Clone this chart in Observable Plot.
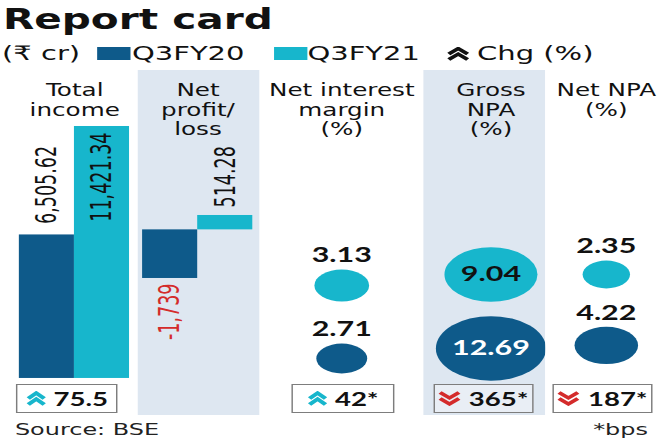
<!DOCTYPE html>
<html><head><meta charset="utf-8">
<script src="https://cdn.jsdelivr.net/npm/d3@7"></script>
<script src="https://cdn.jsdelivr.net/npm/@observablehq/plot@0.6"></script>
<style>
html,body{margin:0;padding:0;background:#fff;width:660px;height:440px;overflow:hidden}
#root{position:absolute;left:0;top:0;width:455.17px;height:440px;transform:scaleX(1.45);transform-origin:0 0;font-family:"DejaVu Sans","Noto Sans",sans-serif;color:#111}
.abs{position:absolute;white-space:nowrap}
#title{left:2px;top:6px;font-weight:bold;font-size:28px;line-height:28px}
.leg{top:43px;font-size:20px;line-height:20px}
.sw{top:46.7px;width:22.5px;height:13.3px}
.box{top:384px;height:29px;box-sizing:border-box;border:1.5px solid #7d7d7d;background:#fff;display:flex;align-items:center;justify-content:center;gap:5px;font-family:Lato,"DejaVu Sans",sans-serif;font-weight:bold;font-size:19px}
.note{top:422px;font-size:16.5px;line-height:16px;color:#222}
#root svg circle{transform-box:fill-box;transform-origin:center;transform:scaleY(0.85)}
</style></head>
<body><div id="root"></div>
<script>
// ---- data ----
const series = ["Q3FY20", "Q3FY21"];
const titles = ["Total\nincome", "Net\nprofit/\nloss", "Net interest\nmargin\n(%)", "Gross\nNPA\n(%)", "Net NPA\n(%)"];
const q3fy20 = [6505.62, -1739, 2.71, 12.69, 4.22];
const q3fy21 = [11421.34, 514.28, 3.13, 9.04, 2.35];
const changeValues = [75.5, null, 42, 365, 187];
const changeSuffix = ["", "", "*", "*", "*"];
const changeDirection = ["up", null, "up", "down", "down"];
const unitLabel = "(₹ cr)";
const changeLabel = "Chg (%)";
const source = "Source: BSE";
const footnote = "*bps";

// ---- styles ----
const DARK = "#0e5a8a", CYAN = "#17b6cc", BG = "#dee7f1", RED = "#d42b2b";
const panelTop = 70, panelH = 345;
const root = document.getElementById("root");

const rows = i => series.map((s, j) => ({series: s, value: j ? q3fy21[i] : q3fy20[i]}));
const fmtBar = v => (Number.isInteger(v) ? d3.format(",")(v) : d3.format(",.2f")(v)).replace("\u2212", "-");
const fmtPct = d3.format(".2f");
const rMax = d3.max([...q3fy20.slice(2), ...q3fy21.slice(2)]);
const SQ = 0.85;

function el(html, cls, css) {
  const d = document.createElement("div");
  d.className = "abs " + (cls || "");
  d.innerHTML = html;
  Object.assign(d.style, css || {});
  root.appendChild(d);
  return d;
}
function chevron(dir, color, w = 14, h = 15) {
  const p = dir === "up"
    ? [`1.5,${h/2} ${w/2},${h/2-5.5} ${w-1.5},${h/2}`, `1.5,${h-1.5} ${w/2},${h-7} ${w-1.5},${h-1.5}`]
    : [`1.5,1.5 ${w/2},7 ${w-1.5},1.5`, `1.5,${h/2} ${w/2},${h/2+5.5} ${w-1.5},${h/2}`];
  return `<svg width="${w}" height="${h}" viewBox="0 0 ${w} ${h}" style="display:block">${p.map(q => `<polyline points="${q}" fill="none" stroke="${color}" stroke-width="3.2"/>`).join("")}</svg>`;
}

// ---- header ----
el("Report card", "", {}).id = "title";
el(unitLabel, "leg", {left: "1.4px"});
el("", "sw", {left: "67px", background: DARK});
el(series[0], "leg", {left: "91px"});
el("", "sw", {left: "189px", background: CYAN});
el(series[1], "leg", {left: "212px"});
el(chevron("up", "#111", 16, 14), "", {left: "308px", top: "46.5px"});
el(changeLabel, "leg", {left: "329px"});

// ---- panels ----
const panels = [
  {left: 0, width: 95.2, bg: "#fff", ml: 12.4, mr: 5.5},
  {left: 95.2, width: 84.1, bg: BG, ml: 2.8, mr: 4.8},
  {left: 179.3, width: 112.4, bg: "#fff", ml: 0, mr: 0},
  {left: 291.7, width: 84.2, bg: BG, ml: 8, mr: 0},
  {left: 375.9, width: 79.3, bg: "#fff", ml: 4, mr: 0}
];

const titleMark = i => Plot.text([titles[i]], {
  text: d => d, frameAnchor: "top", lineAnchor: "top", dy: 12,
  fontSize: 17, lineHeight: 1.15, fill: "#111", fontFamily: "DejaVu Sans"
});
const barFont = {fontFamily: "DejaVu Sans Condensed, sans-serif", fontSize: 19.5};

function base(p) {
  return {
    width: p.width, height: panelH, margin: 0, marginLeft: p.ml, marginRight: p.mr,
    style: {background: p.bg, overflow: "visible", maxWidth: "none"},
    color: {domain: series, range: [DARK, CYAN]}
  };
}

function barPanel(i, yRange, labelOpts) {
  const p = panels[i], data = rows(i);
  const ext = d3.extent([0, ...data.map(d => d.value)]);
  return Plot.plot({
    ...base(p),
    x: {type: "band", domain: series, padding: 0, axis: null},
    y: {domain: ext, range: yRange, axis: null},
    marks: [
      titleMark(i),
      Plot.barY(data, {x: "series", y: "value", fill: "series"}),
      ...data.map((d, j) => Plot.text([d], {
        x: "series", y: "value", text: d => fmtBar(d.value), rotate: -90,
        lineAnchor: "middle", ...barFont, ...labelOpts[j]
      }))
    ]
  });
}

function bubblePanel(i, yRange, inside) {
  const p = panels[i], data = rows(i);
  const rScale = {type: "sqrt", domain: [0, rMax], range: [0, 38]};
  const numFont = {fontFamily: "Lato, DejaVu Sans, sans-serif", fontWeight: "bold", fontSize: 21};
  const labels = inside
    ? [Plot.text(data, {y: "series", text: d => fmtPct(d.value), filter: d => d.series === series[0], fill: "#fff", ...numFont}),
       Plot.text(data, {y: "series", text: d => fmtPct(d.value), filter: d => d.series === series[1], fill: "#111", ...numFont})]
    : [Plot.text(data, {
        y: "series", text: d => fmtPct(d.value), fill: "#111", ...numFont,
        render(index, scales, values, dims, ctx, next) {
          const rs = scales.r || d3.scaleSqrt(rScale.domain, rScale.range);
          const y = Array.from(values.y, (v, k) => v - rs(data[k].value) * SQ - 14);
          return next(index, scales, {...values, y}, dims, ctx);
        }
      })];
  return Plot.plot({
    ...base(p),
    y: {type: "point", domain: [series[1], series[0]], range: yRange, padding: 0, axis: null},
    r: rScale,
    marks: [
      titleMark(i),
      Plot.dot(data, {y: "series", r: "value", fill: "series", stroke: null}),
      ...labels
    ]
  });
}

const charts = [
  barPanel(0, [308, 56], [
    {textAnchor: "start", dy: -11, fill: "#111"},
    {textAnchor: "end", dy: 6, fill: "#111"}
  ]),
  barPanel(1, [208, 145], [
    {textAnchor: "end", dy: 5, fill: RED},
    {textAnchor: "start", dy: -8, fill: "#111"}
  ]),
  bubblePanel(2, [215, 288], false),
  bubblePanel(3, [204, 278], true),
  bubblePanel(4, [203.5, 274.5], false)
];

charts.forEach((c, i) => {
  const d = el("", "", {left: panels[i].left + "px", top: panelTop + "px", width: panels[i].width + "px", height: panelH + "px"});
  d.appendChild(c);
});

// ---- change boxes ----
const boxPos = [{left: 11, width: 70.4}, null, {left: 201.4, width: 70.3}, {left: 298.6, width: 69.7, bg: "#e9eef5"}, {left: 381.4, width: 68.3}];
changeValues.forEach((v, i) => {
  if (v == null) return;
  const b = boxPos[i];
  const up = changeDirection[i] === "up";
  el(chevron(changeDirection[i], up ? CYAN : RED, up ? 14 : 16, 15) + `<span>${v}${changeSuffix[i]}</span>`, "box",
     {left: b.left + "px", width: b.width + "px", background: b.bg || "#fff"});
});

el(source, "note", {left: "10.3px"});
el(footnote, "note", {right: "8.3px"});
</script>
</body></html>
